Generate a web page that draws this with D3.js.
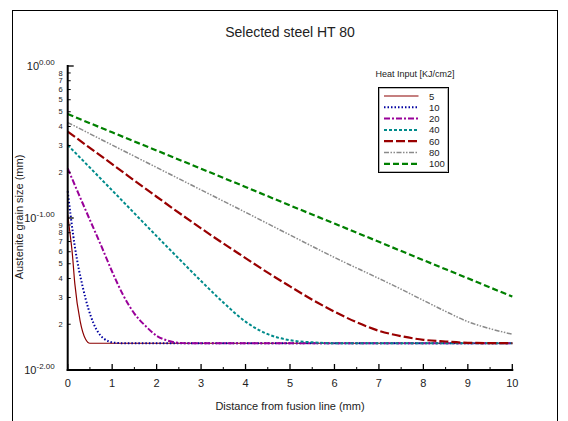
<!DOCTYPE html>
<html>
<head>
<meta charset="utf-8">
<script src="https://cdn.jsdelivr.net/npm/d3@7"></script>
<style>
  body { margin: 0; background: #fff; }
  text { font-family: "Liberation Sans", Arial, sans-serif; fill: #222; }
</style>
</head>
<body>
<svg id="chart" width="568" height="421"></svg>
<script>
// heat input (KJ/cm2) series: [distance mm, grain size mm]
const heatInputs = ["5", "10", "20", "40", "60", "80", "100"]
const s5 = [[0,0.105],[0.05,0.08],[0.1,0.06],[0.16,0.037],[0.28,0.021],[0.4,0.016],[0.5,0.015],[10,0.015]]
const s10 = [[0,0.15],[0.16,0.065],[0.35,0.034],[0.58,0.0203],[0.8,0.0162],[1.06,0.0151],[1.3,0.015],[10,0.015]]
const s20 = [[0,0.212],[0.25,0.143],[0.5,0.097],[0.75,0.066],[1,0.0443],[1.25,0.031],[1.5,0.0235],[1.75,0.0195],[2,0.0168],[2.25,0.0156],[2.5,0.0151],[2.75,0.015],[10,0.015]]
const s40 = [[0,0.302],[1,0.152],[2,0.076],[2.5,0.054],[3,0.0385],[3.5,0.0278],[4,0.0208],[4.5,0.0172],[5,0.0157],[5.5,0.0152],[6,0.015],[10,0.015]]
const s60 = [[0,0.37],[1,0.226],[2,0.138],[3,0.0855],[3.5,0.068],[4,0.0545],[4.5,0.0437],[5,0.0355],[5.5,0.029],[6,0.0242],[6.5,0.0206],[7,0.0181],[7.5,0.0167],[8,0.0158],[8.5,0.0154],[9,0.0151],[10,0.015]]
const s80 = [[0,0.425],[1,0.302],[2,0.215],[3,0.153],[4,0.109],[5,0.0773],[6,0.055],[7,0.040],[7.5,0.034],[8,0.0287],[8.5,0.0243],[9,0.0208],[9.5,0.0187],[10,0.0172]]
const s100 = [[0,0.483],[1,0.366],[2,0.278],[3,0.211],[4,0.160],[5,0.121],[6,0.0919],[7,0.0697],[8,0.0528],[9,0.0401],[10,0.0304]]
const seriesData = [s5, s10, s20, s40, s60, s80, s100]

const xTicks = [0,1,2,3,4,5,6,7,8,9,10]
const yMajor = [1, 0.1, 0.01]
const yMajorExp = ["0.00", "-1.00", "-2.00"]
const yMinorTop = [0.9,0.8,0.7,0.6,0.5,0.4,0.3,0.2]
const yMinorTopLabels = ["8","7","6","5","5","4","3","2"]
const yMinorBot = [0.09,0.08,0.07,0.06,0.05,0.04,0.03,0.02]
const yMinorBotLabels = ["9","8","7","6","5","4","3","2"]

const styles = [
    {color: '#8b0000', w: 1.2, dash: null},
    {color: '#0000a0', w: 2, dash: '1.5,2'},
    {color: '#990099', w: 2, dash: '6,2,2,2'},
    {color: '#008b8b', w: 2, dash: '3,2'},
    {color: '#990000', w: 2.2, dash: '9,3'},
    {color: '#8a8a8a', w: 1.5, dash: '5,1.5,1.5,1.5,1.5,1.5'},
    {color: '#008000', w: 2.2, dash: '6,3'}
]

const svg = d3.select('#chart')

// outer frame
svg.append('rect').attr('x', 12.5).attr('y', 10.5).attr('width', 545).attr('height', 420)
    .attr('fill', 'none').attr('stroke', '#000').attr('stroke-width', 1)

const x = d3.scaleLinear().domain([0, 10]).range([67.7, 512.3])
const y = d3.scaleLog().domain([0.01, 1]).range([370, 66])

const plot = svg.append('g')

// curves
const line = d3.line().x(d => x(d[0])).y(d => y(d[1])).curve(d3.curveMonotoneX)
seriesData.forEach((s, i) => {
    plot.append('path')
        .attr('d', line(s))
        .attr('fill', 'none')
        .attr('stroke', styles[i].color)
        .attr('stroke-width', styles[i].w)
        .attr('stroke-dasharray', styles[i].dash)
})

// x axis
const xAxis = svg.append('g').attr('transform', `translate(0,${y(0.01)})`)
xAxis.append('line').attr('x1', x(0) - 1).attr('x2', x(10) + 1).attr('stroke', '#000').attr('stroke-width', 2)
xAxis.selectAll('.maj').data(xTicks).join('line')
    .attr('x1', d => x(d)).attr('x2', d => x(d)).attr('y1', 0).attr('y2', -6)
    .attr('stroke', '#000').attr('stroke-width', 1.3)
xAxis.selectAll('.min').data(xTicks.slice(0, 10)).join('line')
    .attr('x1', d => x(d + 0.5)).attr('x2', d => x(d + 0.5)).attr('y1', 0).attr('y2', -3)
    .attr('stroke', '#000').attr('stroke-width', 1)
xAxis.selectAll('text').data(xTicks).join('text')
    .attr('x', d => x(d)).attr('y', 17).attr('text-anchor', 'middle')
    .attr('font-size', 11).text(d => d)

// y axis
const yAxis = svg.append('g').attr('transform', `translate(${x(0)},0)`)
yAxis.append('line').attr('y1', y(1) - 1).attr('y2', y(0.01) + 1).attr('stroke', '#000').attr('stroke-width', 2)
yAxis.selectAll('.maj').data(yMajor).join('line')
    .attr('y1', d => y(d)).attr('y2', d => y(d)).attr('x1', 0).attr('x2', 6)
    .attr('stroke', '#000').attr('stroke-width', 1.3)
const minors = yMinorTop.concat(yMinorBot)
const minorLabels = yMinorTopLabels.concat(yMinorBotLabels)
yAxis.selectAll('.min').data(minors).join('line')
    .attr('y1', d => y(d)).attr('y2', d => y(d)).attr('x1', 0).attr('x2', 3)
    .attr('stroke', '#000').attr('stroke-width', 1)
yAxis.selectAll('.minlab').data(minors).join('text')
    .attr('x', -5).attr('y', d => y(d) + 2.7).attr('text-anchor', 'end')
    .attr('font-size', 7.5).text((d, i) => minorLabels[i])
yMajor.forEach((v, i) => {
    const t = yAxis.append('text').attr('x', -13).attr('y', y(v) + 4).attr('text-anchor', 'end')
        .attr('font-size', 11)
    t.append('tspan').text('10')
    t.append('tspan').attr('dy', -5).attr('font-size', 8).text(yMajorExp[i])
})

// titles
svg.append('text').attr('x', 290).attr('y', 37).attr('text-anchor', 'middle')
    .attr('font-size', 14).text('Selected steel HT 80')
svg.append('text').attr('x', 290).attr('y', 410).attr('text-anchor', 'middle')
    .attr('font-size', 11).text('Distance from fusion line (mm)')
svg.append('text').attr('transform', 'translate(23,217) rotate(-90)').attr('text-anchor', 'middle')
    .attr('font-size', 11).text('Austenite grain size (mm)')

// legend
const lg = svg.append('g')
lg.append('text').attr('x', 415).attr('y', 77).attr('text-anchor', 'middle')
    .attr('font-size', 9).text('Heat Input [KJ/cm2]')
lg.append('rect').attr('x', 378.5).attr('y', 87.5).attr('width', 70).attr('height', 85)
    .attr('fill', '#fff').attr('stroke', '#000').attr('stroke-width', 1)
lg.append('rect').attr('x', 379.5).attr('y', 88.5).attr('width', 68).attr('height', 83)
    .attr('fill', 'none').attr('stroke', '#888').attr('stroke-width', 0.6)
heatInputs.forEach((h, i) => {
    const yy = 96 + i * 11.3
    lg.append('line').attr('x1', 384).attr('x2', 418.5).attr('y1', yy).attr('y2', yy)
        .attr('stroke', styles[i].color).attr('stroke-width', styles[i].w)
        .attr('stroke-dasharray', styles[i].dash)
    lg.append('text').attr('x', 429).attr('y', yy + 3.5).attr('font-size', 9.5).text(h)
})
</script>
</body>
</html>
